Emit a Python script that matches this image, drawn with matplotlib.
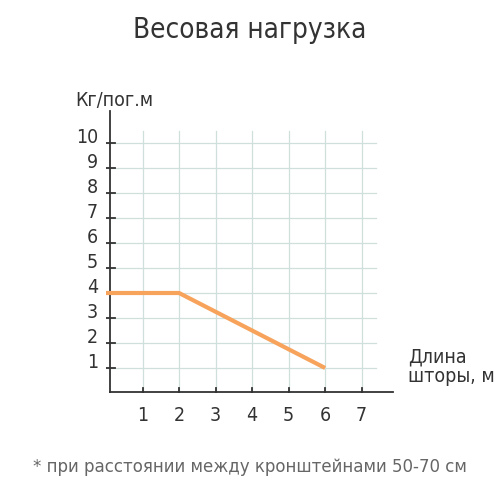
import matplotlib.pyplot as plt

# данные
dlina = [0, 2, 6]
nagruzka = [4, 4, 1]
x_ticks = [1, 2, 3, 4, 5, 6, 7]
y_ticks = [1, 2, 3, 4, 5, 6, 7, 8, 9, 10]

plt.rcParams["font.family"] = ["DejaVu Sans"]
plt.rcParams["font.stretch"] = "condensed"

fig = plt.figure(figsize=(5, 5), dpi=100)
ax = fig.add_axes([0.212, 0.214, 0.588, 0.586])
ax.set_xlim(0, 8.05)
ax.set_ylim(0, 11.72)
ax.axis("off")

grid_c = "#cfe0dc"
for x in x_ticks:
    ax.plot([x, x], [0, 10.5], color=grid_c, lw=0.9, zorder=1)
for y in y_ticks:
    ax.plot([0, 7.4], [y, y], color=grid_c, lw=0.9, zorder=1)

# оси
ax.plot([0.1, 0.1], [0, 11.3], color="#333333", lw=1.3, zorder=3)
ax.plot([0.1, 7.86], [0.05, 0.05], color="#333333", lw=1.3, zorder=3)
for x in x_ticks:
    ax.plot([x, x], [-0.25, 0.2], color="#333333", lw=1.3, zorder=3)
    ax.text(x, -0.9, str(x), ha="center", va="center", fontsize=14, color="#333333")
for y in y_ticks:
    ax.plot([-0.08, 0.25], [y, y], color="#333333", lw=1.3, zorder=3)
    ax.text(-0.22, y + 0.22, str(y), ha="right", va="center", fontsize=14, color="#333333")

ax.plot(dlina, nagruzka, color="#f7a35c", lw=3, solid_capstyle="butt", zorder=4)

fig.text(0.15, 0.8, "Кг/пог.м", ha="left", va="center", fontsize=14, color="#333333")
fig.text(0.816, 0.266, "Длина\nшторы, м", ha="left", va="center", fontsize=14,
         color="#333333", linespacing=1.0)
fig.text(0.5, 0.94, "Весовая нагрузка", ha="center", va="center", fontsize=20,
         color="#333333")
fig.text(0.5, 0.066, "* при расстоянии между кронштейнами 50-70 см", ha="center",
         va="center", fontsize=13.3, color="#666666")

fig.savefig("out.png", dpi=100)
